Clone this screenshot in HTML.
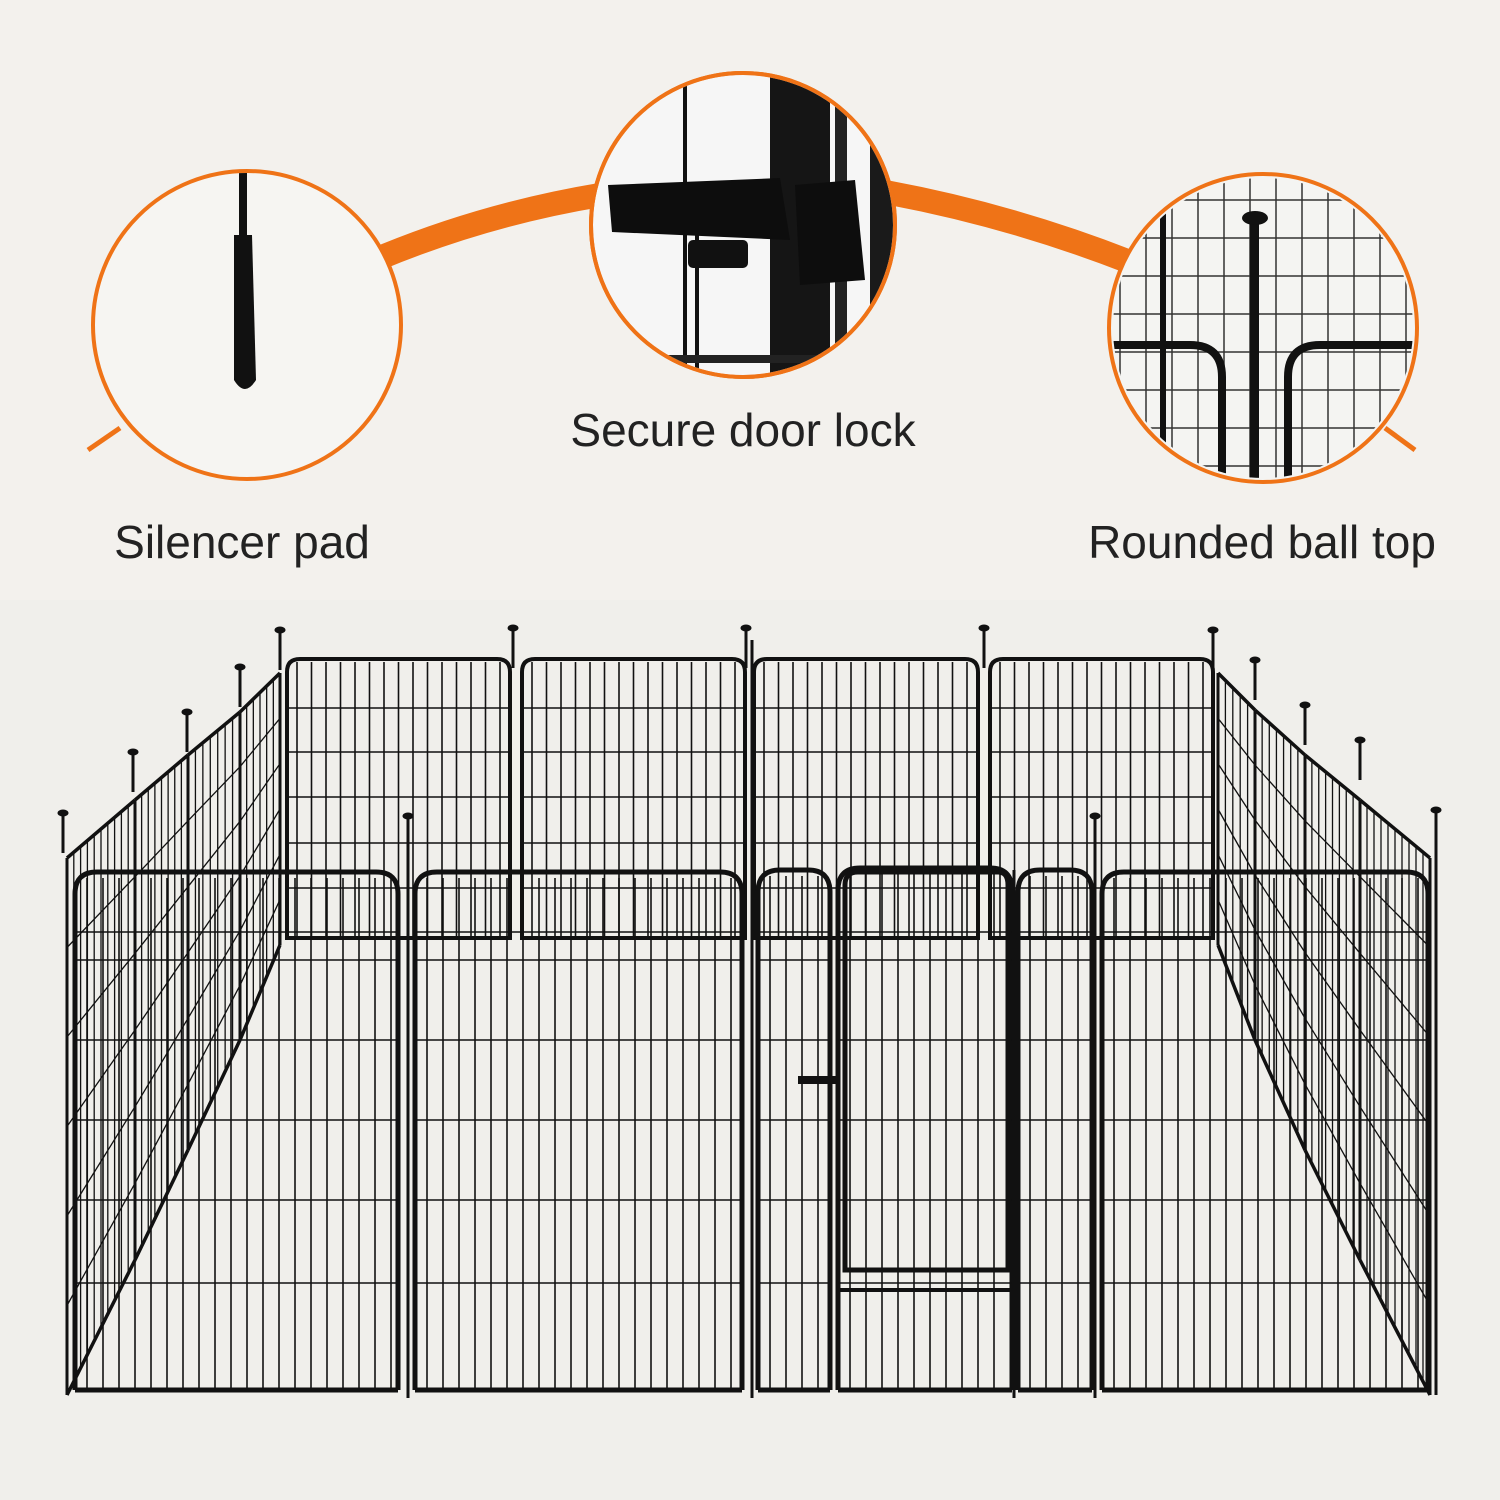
<!DOCTYPE html>
<html><head><meta charset="utf-8"><style>
html,body{margin:0;padding:0;background:#f3f1ed}
svg{display:block}
text{font-family:"Liberation Sans",sans-serif;fill:#222}
</style></head><body>
<svg id="s" width="1500" height="1500" viewBox="0 0 1500 1500" xmlns="http://www.w3.org/2000/svg">
<rect width="1500" height="1500" fill="#f3f1ed"/>
<defs>
<clipPath id="cL"><circle cx="247" cy="325" r="152"/></clipPath>
<clipPath id="cM"><circle cx="743" cy="225" r="150"/></clipPath>
<clipPath id="cR"><circle cx="1263" cy="328" r="150"/></clipPath>
</defs>
<path d="M370 262 Q 480 215 600 195" stroke="#ef7317" stroke-width="24" fill="none"/>
<path d="M885 192 Q 1010 215 1130 262" stroke="#ef7317" stroke-width="24" fill="none"/>
<path d="M88 450 L120 428" stroke="#ef7317" stroke-width="5"/>
<path d="M1415 450 L1385 428" stroke="#ef7317" stroke-width="5"/>
<circle cx="247" cy="325" r="154" fill="#f6f5f2" stroke="#ef7317" stroke-width="4"/>
<g clip-path="url(#cL)">
<rect x="239" y="160" width="8" height="75" fill="#111"/>
<path d="M234 235 L252 235 L256 380 Q245 398 234 380 Z" fill="#111"/>
</g>
<circle cx="743" cy="225" r="152" fill="#f8f8f8" stroke="#ef7317" stroke-width="4"/>
<g clip-path="url(#cM)">
<rect x="600" y="60" width="300" height="330" fill="#f6f6f6"/>
<rect x="683" y="70" width="4" height="320" fill="#111"/>
<rect x="695" y="235" width="4" height="160" fill="#111"/>
<rect x="770" y="70" width="60" height="320" fill="#151515"/>
<rect x="835" y="70" width="12" height="320" fill="#222"/>
<rect x="870" y="70" width="30" height="320" fill="#1a1a1a"/>
<path d="M608 185 L780 178 L790 240 L612 232 Z" fill="#0d0d0d"/>
<rect x="688" y="240" width="60" height="28" rx="5" fill="#111"/>
<path d="M795 185 L855 180 L865 280 L800 285 Z" fill="#0d0d0d"/>
<rect x="600" y="355" width="300" height="8" fill="#222"/>
</g>
<circle cx="743" cy="225" r="152" fill="none" stroke="#ef7317" stroke-width="4"/>
<circle cx="1263" cy="328" r="154" fill="#f4f4f2" stroke="#ef7317" stroke-width="4"/>
<g clip-path="url(#cR)" stroke="#333" stroke-width="1.5" fill="none" id="rg"></g>
<g clip-path="url(#cR)">
<rect x="1250" y="220" width="9" height="270" fill="#111"/>
<ellipse cx="1255" cy="218" rx="13" ry="7" fill="#111"/>
<path d="M1100 345 L1190 345 Q1222 345 1222 377 L1222 490" stroke="#111" stroke-width="8" fill="none"/>
<path d="M1420 345 L1320 345 Q1288 345 1288 377 L1288 490" stroke="#111" stroke-width="8" fill="none"/>
<rect x="1160" y="210" width="6" height="280" fill="#111"/>
</g>
<text x="743" y="446" font-size="46" text-anchor="middle">Secure door lock</text>
<text x="242" y="558" font-size="46" text-anchor="middle">Silencer pad</text>
<text x="1262" y="558" font-size="46" text-anchor="middle">Rounded ball top</text>
<rect x="0" y="600" width="1500" height="900" fill="#f0efeb"/>
<g id="f" stroke="#111" fill="none"></g>
</svg>
<script>
var NS="http://www.w3.org/2000/svg",g=document.getElementById('f');
function L(x1,y1,x2,y2,w){var e=document.createElementNS(NS,'line');e.setAttribute('x1',x1);e.setAttribute('y1',y1);e.setAttribute('x2',x2);e.setAttribute('y2',y2);e.setAttribute('stroke-width',w||1.6);g.appendChild(e);}
function P(d,w){var e=document.createElementNS(NS,'path');e.setAttribute('d',d);e.setAttribute('stroke-width',w);g.appendChild(e);}
function post(x,yt,yb){L(x,yt,x,yb,3);var e=document.createElementNS(NS,'ellipse');e.setAttribute('cx',x);e.setAttribute('cy',yt);e.setAttribute('rx',5);e.setAttribute('ry',3);e.setAttribute('fill','#111');g.appendChild(e);}
var rg=document.getElementById('rg');
for(var x=1120;x<1420;x+=26){var e=document.createElementNS(NS,'line');e.setAttribute('x1',x);e.setAttribute('y1',170);e.setAttribute('x2',x);e.setAttribute('y2',490);rg.appendChild(e);}
for(var y=200;y<490;y+=38){var e=document.createElementNS(NS,'line');e.setAttribute('x1',1100);e.setAttribute('y1',y);e.setAttribute('x2',1420);e.setAttribute('y2',y);rg.appendChild(e);}
var back=[[287,510],[522,745],[754,978],[990,1213]];
back.forEach(function(b){
 for(var x=b[0]+10;x<b[1]-4;x+=14.5)L(x,662,x,938);
 [708,752,797,843,888].forEach(function(y){L(b[0],y,b[1],y);});
 P('M'+b[0]+' 938 L'+b[0]+' 672 Q'+b[0]+' 659 '+(b[0]+13)+' 659 L'+(b[1]-13)+' 659 Q'+b[1]+' 659 '+b[1]+' 672 L'+b[1]+' 938 Z',4);
});
function side(xs,tops,bots){
 for(var i=0;i<xs.length-1;i++){
  var x1=xs[i],x2=xs[i+1],t1=tops[i],t2=tops[i+1],b1=bots[i],b2=bots[i+1];
  var n=Math.round(Math.abs(x2-x1)/7);
  for(var k=1;k<n;k++){var f=k/n,x=x1+(x2-x1)*f;L(x,t1+(t2-t1)*f,x,b1+(b2-b1)*f,1.3);}
  for(var h=1;h<6;h++){var f=h/6;L(x1,t1+(b1-t1)*f,x2,t2+(b2-t2)*f,1.3);}
  L(x1,t1,x2,t2,3.5);L(x1,b1,x2,b2,3.5);L(x1,t1,x1,b1,3);L(x2,t2,x2,b2,3);
 }
}
side([67,135,188,240,280],[858,800,755,712,673],[1395,1260,1150,1040,945]);
side([1218,1255,1305,1360,1430],[673,710,755,800,858],[945,1040,1150,1260,1395]);
[[63,813],[133,752],[187,712],[240,667],[280,630],[513,628],[746,628],[984,628],[1213,630],[1255,660],[1305,705],[1360,740],[1436,810]].forEach(function(p){post(p[0],p[1],p[0]<60||p[0]>1430?1395:p[1]+40);});
post(408,816,1398);post(1095,816,1398);
function front(x1,x2,top,hs,bot){
 for(var x=x1+12;x<x2-6;x+=16)L(x,top+6,x,bot);
 hs.forEach(function(y){L(x1,y,x2,y);});
 P('M'+x1+' '+bot+' L'+x1+' '+(top+22)+' Q'+x1+' '+top+' '+(x1+22)+' '+top+' L'+(x2-22)+' '+top+' Q'+x2+' '+top+' '+x2+' '+(top+22)+' L'+x2+' '+bot,5);
 L(x1,bot,x2,bot,5);
}
var H=[932,960,1040,1120,1200,1283];
front(75,398,872,H,1390);
front(415,742,872,H,1390);
front(758,830,870,H,1390);
front(1018,1092,870,H,1390);
front(1102,1428,872,H,1390);
front(838,1012,868,[],1390);
[932,960,1040,1120,1200,1283].forEach(function(y){L(838,y,1012,y);});
P('M845 1270 L845 885 Q845 872 858 872 L998 872 Q1008 872 1008 885 L1008 1270 Z',5);
L(838,1290,1012,1290,4);
P('M798 1080 L838 1080',8);
L(752,640,752,1398,3);L(1014,870,1014,1398,3);
</script>
</body></html>
